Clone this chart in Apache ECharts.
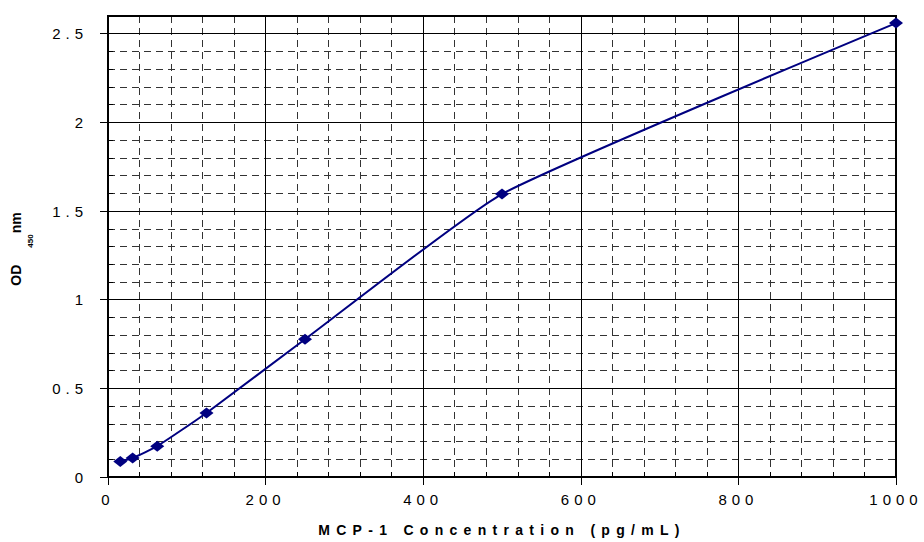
<!DOCTYPE html>
<html>
<head>
<meta charset="utf-8">
<script src="https://cdn.jsdelivr.net/npm/echarts@6/dist/echarts.min.js"></script>
<style>
html,body{margin:0;padding:0;background:#fff;}
#chart{width:924px;height:542px;}
</style>
</head>
<body>
<div id="chart"></div>
<script>
// Data
const concentrations = [15.6, 31.25, 62.5, 125, 250, 500, 1000];
const odValues = [0.088, 0.107, 0.174, 0.361, 0.777, 1.596, 2.56];
const xTitle = 'MCP-1 Concentration (pg/mL)';
const yTitleParts = ['OD', '450', 'nm'];

const seriesData = concentrations.map((c, i) => [c, odValues[i]]);
const FONT = '"Liberation Sans", Arial, sans-serif';

const chart = echarts.init(document.getElementById('chart'), null, {renderer: 'svg'});
chart.setOption({
  animation: false,
  backgroundColor: '#fff',
  grid: {left: 108, right: 28, top: 16, bottom: 63, show: true, borderColor: '#000', borderWidth: 2, backgroundColor: '#fff'},
  xAxis: [
    {
      type: 'value', min: 0, max: 1000, interval: 200, position: 'bottom', z: 2,
      name: xTitle, nameLocation: 'middle', nameGap: 46,
      nameTextStyle: {fontFamily: FONT, fontSize: 14, fontWeight: 'bold', color: '#000'},
      axisLine: {show: true, onZero: false, lineStyle: {color: '#000', width: 2}},
      axisTick: {show: true, inside: false, length: 8, lineStyle: {color: '#000'}},
      axisLabel: {fontFamily: FONT, fontSize: 15, color: '#000', margin: 15,
        formatter: function (v) { return String(v); }},
      splitLine: {show: true, lineStyle: {color: '#000', width: 1, type: 'solid'}}
    },
    {
      type: 'value', min: 0, max: 1000, interval: 40, position: 'bottom', z: 1,
      axisLine: {show: false, onZero: false},
      axisTick: {show: true, inside: true, length: 5, lineStyle: {color: '#000'}},
      axisLabel: {show: false},
      splitLine: {show: true, lineStyle: {color: '#333', width: 1, type: [7, 5]}}
    }
  ],
  yAxis: [
    {
      type: 'value', min: 0, max: 2.6, interval: 0.5, position: 'left', z: 2,
      name: '{a|' + yTitleParts[0] + '}{b|' + yTitleParts[1] + '}{c|' + yTitleParts[2] + '}',
      nameLocation: 'middle', nameRotate: 90, nameGap: 74,
      nameTextStyle: {
        fontFamily: FONT, fontSize: 14, fontWeight: 'bold', color: '#000',
        rich: {
          a: {fontFamily: FONT, fontSize: 14, fontWeight: 'bold', color: '#000', lineHeight: 36, verticalAlign: 'middle'},
          b: {fontFamily: FONT, fontSize: 8, fontWeight: 'bold', color: '#000', lineHeight: 8, verticalAlign: 'bottom', padding: [0, 1, 0, 17]},
          c: {fontFamily: FONT, fontSize: 14, fontWeight: 'bold', color: '#000', lineHeight: 36, verticalAlign: 'middle', padding: [0, 5, 0, 0]}
        }
      },
      axisLine: {show: true, onZero: false, lineStyle: {color: '#000', width: 2}},
      axisTick: {show: true, inside: false, length: 8, lineStyle: {color: '#000'}},
      axisLabel: {
        fontFamily: FONT, fontSize: 15, color: '#000', margin: 20,
        showMaxLabel: false,
        formatter: function (v) { return (Math.abs(v * 2 - Math.round(v * 2)) < 1e-6) ? String(v) : ''; }
      },
      splitLine: {show: true, lineStyle: {color: '#000', width: 1, type: 'solid'}}
    },
    {
      type: 'value', min: 0, max: 2.6, interval: 0.1, position: 'left', z: 1,
      axisLine: {show: false, onZero: false},
      axisTick: {show: true, inside: true, length: 5, lineStyle: {color: '#000'}},
      axisLabel: {show: false},
      splitLine: {show: true, lineStyle: {color: '#333', width: 1, type: [7, 5]}}
    }
  ],
  series: [{
    type: 'line', xAxisIndex: 0, yAxisIndex: 0, z: 10,
    data: seriesData,
    smooth: 0.15,
    symbol: 'diamond', symbolSize: [14, 11],
    lineStyle: {color: '#000080', width: 2},
    itemStyle: {color: '#000080'},
    silent: true
  }]
});

function spaceTexts() {
  const texts = document.querySelectorAll('#chart svg text');
  texts.forEach(t => {
    const s = (t.textContent || '').trim();
    if (s === xTitle) {
      t.style.letterSpacing = '6.3px';
    } else if (/^[0-9.]+$/.test(s) && yTitleParts.indexOf(s) < 0) {
      t.style.letterSpacing = '5px';
    }
  });
}
chart.on('finished', spaceTexts);
setTimeout(spaceTexts, 30);
setTimeout(spaceTexts, 200);
</script>
</body>
</html>
